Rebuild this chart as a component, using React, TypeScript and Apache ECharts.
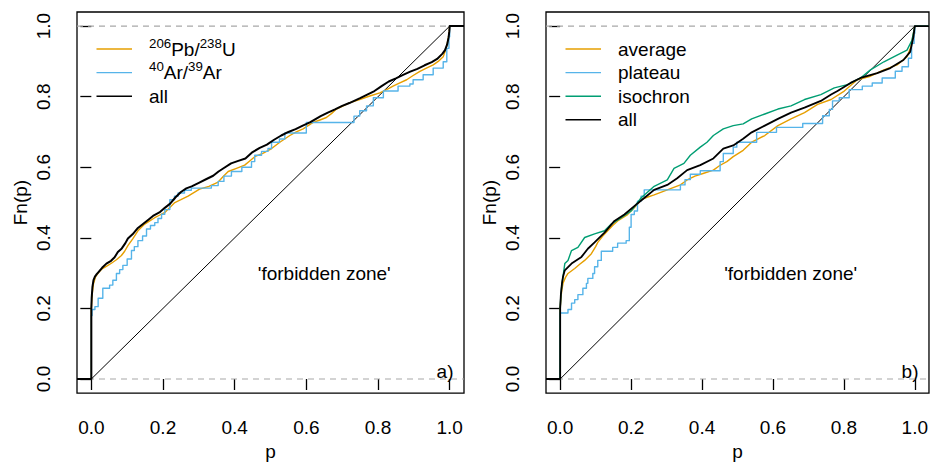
import React, { useEffect, useRef } from "react";
import * as echarts from "echarts";

// ---- tick values ----
const tickValues = [0, 0.2, 0.4, 0.6, 0.8, 1.0];

// ---- panel a) ----
const pbU_p = [-0.04, 0, 0, 0.001, 0.003, 0.006, 0.012, 0.019, 0.03, 0.043, 0.056, 0.07, 0.084, 0.093, 0.102, 0.116, 0.13, 0.149, 0.163, 0.177, 0.19, 0.205, 0.219, 0.233, 0.25, 0.27, 0.286, 0.302, 0.328, 0.354, 0.368, 0.382, 0.405, 0.428, 0.442, 0.456, 0.48, 0.503, 0.526, 0.554, 0.572, 0.591, 0.605, 0.619, 0.638, 0.656, 0.67, 0.684, 0.703, 0.722, 0.749, 0.777, 0.805, 0.824, 0.842, 0.861, 0.88, 0.898, 0.917, 0.935, 0.954, 0.968, 0.982, 0.988, 0.992, 0.996, 0.999, 1.0, 1.04];
const pbU_F = [0, 0, 0.2, 0.22, 0.245, 0.27, 0.29, 0.3, 0.312, 0.32, 0.328, 0.338, 0.35, 0.362, 0.378, 0.398, 0.42, 0.439, 0.448, 0.457, 0.464, 0.472, 0.486, 0.5, 0.508, 0.518, 0.528, 0.538, 0.546, 0.558, 0.574, 0.588, 0.597, 0.606, 0.618, 0.63, 0.64, 0.653, 0.671, 0.69, 0.7, 0.709, 0.718, 0.727, 0.734, 0.741, 0.752, 0.765, 0.774, 0.783, 0.792, 0.802, 0.811, 0.82, 0.83, 0.839, 0.848, 0.86, 0.872, 0.881, 0.89, 0.9, 0.913, 0.93, 0.945, 0.965, 0.985, 1.0, 1.0];

const arAr_p = [-0.04, 0, 0.002, 0.01, 0.019, 0.032, 0.051, 0.06, 0.07, 0.079, 0.088, 0.1, 0.112, 0.12, 0.13, 0.143, 0.154, 0.165, 0.177, 0.186, 0.196, 0.205, 0.219, 0.232, 0.242, 0.26, 0.279, 0.335, 0.354, 0.37, 0.391, 0.42, 0.447, 0.456, 0.475, 0.493, 0.503, 0.525, 0.54, 0.6, 0.733, 0.749, 0.768, 0.787, 0.815, 0.856, 0.889, 0.898, 0.926, 0.954, 0.982, 0.992, 0.998, 1.0, 1.04];
const arAr_F = [0, 0.18, 0.197, 0.205, 0.229, 0.257, 0.266, 0.28, 0.299, 0.31, 0.322, 0.34, 0.364, 0.375, 0.392, 0.405, 0.425, 0.435, 0.443, 0.455, 0.467, 0.48, 0.508, 0.518, 0.527, 0.535, 0.541, 0.548, 0.56, 0.575, 0.588, 0.6, 0.616, 0.634, 0.645, 0.653, 0.671, 0.68, 0.697, 0.727, 0.745, 0.76, 0.774, 0.797, 0.816, 0.83, 0.836, 0.848, 0.862, 0.881, 0.899, 0.937, 0.97, 1.0, 1.0];

const allA_p = [-0.04, 0, 0, 0.001, 0.003, 0.006, 0.01, 0.015, 0.02, 0.03, 0.042, 0.055, 0.065, 0.074, 0.085, 0.095, 0.102, 0.115, 0.13, 0.145, 0.16, 0.172, 0.19, 0.205, 0.22, 0.235, 0.25, 0.265, 0.28, 0.3, 0.32, 0.34, 0.355, 0.37, 0.39, 0.41, 0.43, 0.45, 0.47, 0.49, 0.51, 0.53, 0.55, 0.57, 0.59, 0.61, 0.64, 0.66, 0.68, 0.7, 0.72, 0.75, 0.77, 0.79, 0.81, 0.83, 0.85, 0.87, 0.89, 0.91, 0.93, 0.95, 0.965, 0.98, 0.987, 0.993, 0.997, 0.999, 1.0, 1.04];
const allA_F = [0, 0, 0.2, 0.23, 0.26, 0.28, 0.29, 0.297, 0.303, 0.315, 0.327, 0.335, 0.345, 0.36, 0.37, 0.385, 0.398, 0.41, 0.428, 0.44, 0.452, 0.462, 0.472, 0.485, 0.497, 0.515, 0.53, 0.54, 0.546, 0.556, 0.566, 0.576, 0.588, 0.598, 0.611, 0.618, 0.625, 0.643, 0.655, 0.664, 0.678, 0.69, 0.7, 0.708, 0.718, 0.727, 0.745, 0.755, 0.764, 0.774, 0.782, 0.796, 0.806, 0.816, 0.83, 0.843, 0.852, 0.862, 0.871, 0.879, 0.889, 0.898, 0.907, 0.922, 0.932, 0.948, 0.968, 0.985, 1.0, 1.0];

// ---- panel b) ----
const avg_p = [-0.04, 0, 0, 0.002, 0.005, 0.008, 0.015, 0.022, 0.041, 0.055, 0.069, 0.088, 0.1, 0.106, 0.12, 0.134, 0.148, 0.162, 0.19, 0.209, 0.22, 0.228, 0.245, 0.265, 0.302, 0.339, 0.358, 0.38, 0.405, 0.432, 0.45, 0.47, 0.488, 0.516, 0.54, 0.577, 0.614, 0.651, 0.689, 0.726, 0.764, 0.801, 0.838, 0.875, 0.913, 0.95, 0.978, 0.989, 0.996, 1.0, 1.04];
const avg_F = [0, 0, 0.2, 0.23, 0.255, 0.271, 0.288, 0.299, 0.313, 0.325, 0.336, 0.355, 0.375, 0.387, 0.405, 0.42, 0.435, 0.448, 0.466, 0.485, 0.498, 0.508, 0.515, 0.522, 0.536, 0.55, 0.564, 0.575, 0.583, 0.592, 0.605, 0.616, 0.63, 0.648, 0.671, 0.69, 0.718, 0.737, 0.755, 0.778, 0.792, 0.816, 0.848, 0.858, 0.876, 0.89, 0.913, 0.941, 0.979, 1.0, 1.0];

const plat_p = [-0.04, 0, 0.022, 0.032, 0.041, 0.05, 0.064, 0.074, 0.078, 0.092, 0.097, 0.106, 0.116, 0.148, 0.162, 0.186, 0.195, 0.2, 0.209, 0.218, 0.228, 0.237, 0.339, 0.352, 0.367, 0.395, 0.451, 0.46, 0.488, 0.498, 0.554, 0.61, 0.684, 0.74, 0.759, 0.768, 0.787, 0.815, 0.852, 0.88, 0.908, 0.945, 0.964, 0.982, 0.991, 0.998, 1.0, 1.04];
const plat_F = [0, 0.187, 0.197, 0.215, 0.225, 0.239, 0.257, 0.271, 0.285, 0.299, 0.318, 0.336, 0.362, 0.373, 0.385, 0.392, 0.43, 0.466, 0.476, 0.504, 0.518, 0.536, 0.55, 0.565, 0.58, 0.59, 0.616, 0.639, 0.657, 0.671, 0.699, 0.713, 0.724, 0.746, 0.764, 0.788, 0.797, 0.82, 0.83, 0.839, 0.853, 0.872, 0.885, 0.909, 0.951, 0.98, 1.0, 1.0];

const iso_p = [-0.04, 0, 0, 0.002, 0.005, 0.008, 0.013, 0.022, 0.032, 0.05, 0.069, 0.097, 0.125, 0.144, 0.172, 0.2, 0.228, 0.265, 0.302, 0.321, 0.349, 0.367, 0.395, 0.414, 0.432, 0.46, 0.488, 0.516, 0.54, 0.577, 0.614, 0.651, 0.689, 0.735, 0.773, 0.81, 0.847, 0.875, 0.913, 0.95, 0.978, 0.992, 0.998, 1.0, 1.04];
const iso_F = [0, 0, 0.2, 0.24, 0.27, 0.29, 0.327, 0.336, 0.364, 0.373, 0.401, 0.411, 0.42, 0.439, 0.457, 0.476, 0.513, 0.546, 0.564, 0.597, 0.611, 0.634, 0.657, 0.671, 0.69, 0.709, 0.718, 0.723, 0.737, 0.751, 0.765, 0.774, 0.792, 0.806, 0.825, 0.834, 0.853, 0.876, 0.899, 0.918, 0.932, 0.96, 0.99, 1.0, 1.0];

const allB_p = [-0.04, 0, 0, 0.002, 0.005, 0.008, 0.013, 0.032, 0.06, 0.078, 0.097, 0.125, 0.153, 0.181, 0.209, 0.237, 0.265, 0.302, 0.33, 0.358, 0.395, 0.432, 0.46, 0.488, 0.516, 0.54, 0.577, 0.614, 0.651, 0.689, 0.735, 0.764, 0.782, 0.819, 0.847, 0.894, 0.931, 0.968, 0.987, 0.996, 1.0, 1.04];
const allB_F = [0, 0, 0.2, 0.24, 0.27, 0.29, 0.308, 0.327, 0.346, 0.369, 0.387, 0.415, 0.448, 0.466, 0.49, 0.513, 0.536, 0.55, 0.569, 0.592, 0.606, 0.625, 0.653, 0.662, 0.681, 0.699, 0.718, 0.737, 0.755, 0.769, 0.788, 0.806, 0.816, 0.839, 0.853, 0.867, 0.881, 0.904, 0.927, 0.969, 1.0, 1.0];

const refY = [0, 1];
const diagP = [0, 1];

const ORANGE = "#E69F00";
const BLUE = "#56B4E9";
const GREEN = "#009E73";
const BLACK = "#000000";
const FONT = "'Liberation Sans', Arial, Helvetica, sans-serif";

const zip = (p: number[], f: number[]) => p.map((x, i) => [x, f[i]]);

export default function App() {
  const ref = useRef<HTMLDivElement>(null);
  useEffect(() => {
    const chart = echarts.init(ref.current!, null, { renderer: "svg" });
    const grids = [
      { left: 77, top: 12, width: 387, height: 386 },
      { left: 546, top: 12, width: 387, height: 386 },
    ];
    const mkX = (i: number) => ({
      type: "value", gridIndex: i, min: -0.04, max: 1.04,
      name: "p", nameLocation: "middle", nameGap: 47,
      nameTextStyle: { fontSize: 19, fontFamily: FONT, color: "#000" },
      axisLine: { show: false },
      axisTick: { show: true, inside: false, length: 11, customValues: tickValues, lineStyle: { color: "#000", width: 1.3 } },
      axisLabel: { customValues: tickValues, formatter: (v: number) => v.toFixed(1), fontSize: 19, fontFamily: FONT, color: "#000", margin: 25 },
      splitLine: { show: false },
    });
    const mkY = (i: number) => ({
      type: "value", gridIndex: i, min: -0.04, max: 1.04,
      name: "Fn(p)", nameLocation: "middle", nameGap: 47,
      nameTextStyle: { fontSize: 19, fontFamily: FONT, color: "#000" },
      axisLine: { show: false },
      axisTick: { show: true, inside: false, length: 11, customValues: tickValues, lineStyle: { color: "#000", width: 1.3 } },
      axisLabel: { customValues: tickValues, formatter: (v: number) => v.toFixed(1), fontSize: 19, fontFamily: FONT, color: "#000", margin: 24, rotate: 90 },
      splitLine: { show: false },
    });
    const refLines = (i: number) => refY.map((y) => ({
      type: "line", xAxisIndex: i, yAxisIndex: i, data: [[-0.04, y], [1.04, y]],
      showSymbol: false, silent: true, z: 1,
      lineStyle: { color: "#a8a8a8", width: 1.2, type: [6, 5] },
    }));
    const diag = (i: number) => ({
      type: "line", xAxisIndex: i, yAxisIndex: i, data: zip(diagP, diagP),
      showSymbol: false, silent: true, z: 2, lineStyle: { color: "#000", width: 1 },
    });
    const ecdf = (i: number, name: string, data: number[][], color: string, width: number, z: number, step: boolean) => ({
      type: "line", name, xAxisIndex: i, yAxisIndex: i, data, step: step ? "end" : false,
      showSymbol: false, z, lineStyle: { color, width, join: "round" },
    });
    chart.setOption({
      animation: false,
      grid: grids.map((g) => ({ ...g, show: true, borderColor: "#000", borderWidth: 1.3, backgroundColor: "transparent" })),
      xAxis: [mkX(0), mkX(1)],
      yAxis: [mkY(0), mkY(1)],
      series: [
        ...refLines(0), diag(0),
        ecdf(0, "206Pb/238U", zip(pbU_p, pbU_F), ORANGE, 1.4, 3, false),
        ecdf(0, "40Ar/39Ar", zip(arAr_p, arAr_F), BLUE, 1.4, 4, true),
        ecdf(0, "all", zip(allA_p, allA_F), BLACK, 2, 5, false),
        ...refLines(1), diag(1),
        ecdf(1, "average", zip(avg_p, avg_F), ORANGE, 1.4, 3, false),
        ecdf(1, "plateau", zip(plat_p, plat_F), BLUE, 1.4, 4, true),
        ecdf(1, "isochron", zip(iso_p, iso_F), GREEN, 1.4, 5, false),
        ecdf(1, "all", zip(allB_p, allB_F), BLACK, 1.8, 6, false),
      ],
    });

    const rich = {
      n: { fontSize: 19, fontFamily: FONT, color: "#000", lineHeight: 19, verticalAlign: "bottom" },
      s: { fontSize: 13.3, fontFamily: FONT, color: "#000", lineHeight: 13.3, padding: [0, 0, 9, 0], verticalAlign: "bottom" },
    };
    const legends = [
      [
        { text: "{s|206}{n|Pb/}{s|238}{n|U}", color: ORANGE, w: 1.4 },
        { text: "{s|40}{n|Ar/}{s|39}{n|Ar}", color: BLUE, w: 1.4 },
        { text: "{n|all}", color: BLACK, w: 1.6 },
      ],
      [
        { text: "{n|average}", color: ORANGE, w: 1.4 },
        { text: "{n|plateau}", color: BLUE, w: 1.4 },
        { text: "{n|isochron}", color: GREEN, w: 1.4 },
        { text: "{n|all}", color: BLACK, w: 1.4 },
      ],
    ];
    const graphics: any[] = [];
    const tags = ["a)", "b)"];
    grids.forEach((g, i) => {
      const fz = chart.convertToPixel({ gridIndex: i }, [0.65, 0.3]) as number[];
      graphics.push({
        type: "text", x: fz[0], y: fz[1], silent: true,
        style: { text: "'forbidden zone'", fill: "#000", font: `19px ${FONT}`, align: "center", verticalAlign: "middle" },
      });
      const zero = chart.convertToPixel({ gridIndex: i }, [1.04, 0]) as number[];
      graphics.push({
        type: "text", x: zero[0] - 10.5, y: zero[1] - 7, silent: true,
        style: { text: tags[i], fill: "#000", font: `19px ${FONT}`, align: "right", verticalAlign: "middle" },
      });
      legends[i].forEach((it, k) => {
        const y = 49 + k * 23.6;
        graphics.push({
          type: "line", silent: true,
          shape: { x1: g.left + 19.5, y1: y, x2: g.left + 55, y2: y },
          style: { stroke: it.color, lineWidth: it.w },
        });
        graphics.push({
          type: "text", silent: true, x: g.left + 72, y: y,
          style: { text: it.text, rich, align: "left", verticalAlign: "middle" },
        });
      });
    });
    chart.setOption({ graphic: graphics });
    return () => chart.dispose();
  }, []);
  return <div ref={ref} style={{ position: "fixed", left: 0, top: 0, width: 931, height: 466, background: "#fff" }} />;
}
